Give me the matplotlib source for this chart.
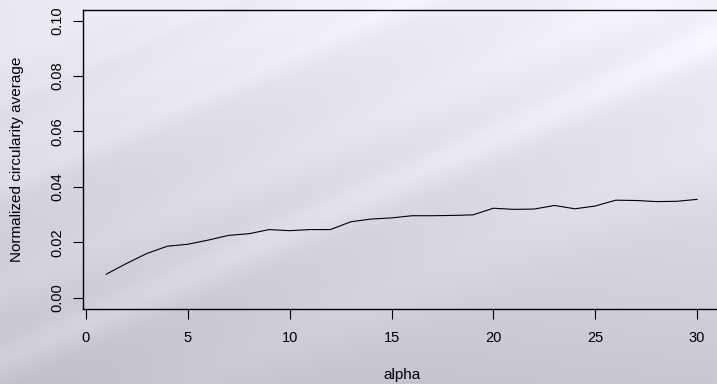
import numpy as np
import matplotlib
matplotlib.use("Agg")
import matplotlib.pyplot as plt

# Normalized circularity average for each alpha
alpha = list(range(1, 31))
circularity = [0.0085, 0.0124, 0.0160, 0.0186, 0.0193, 0.0208, 0.0225, 0.0231, 0.0246, 0.0242,
               0.0246, 0.0246, 0.0274, 0.0284, 0.0288, 0.0296, 0.0296, 0.0297, 0.0299, 0.0323,
               0.0319, 0.0320, 0.0333, 0.0321, 0.0331, 0.0352, 0.0351, 0.0347, 0.0348, 0.0355]
x_ticks = [0, 5, 10, 15, 20, 25, 30]
y_ticks = [0.00, 0.02, 0.04, 0.06, 0.08, 0.10]
y_tick_labels = ["0.00", "0.02", "0.04", "0.06", "0.08", "0.10"]

plt.rcParams['font.family'] = ['Liberation Sans', 'DejaVu Sans']

W, H = 717, 384
fig = plt.figure(figsize=(W / 100, H / 100), dpi=100)

# Soft lavender-grey backdrop with diagonal light streaks
yy, xx = np.mgrid[0:H, 0:W].astype(float)
u, v = xx / W, yy / H
val = 234 - 40 * v + 8 * u
s = yy + 0.45 * xx
for centre, width, amp in [(150, 25, 7), (185, 15, 8), (290, 30, 7), (360, 20, 12), (470, 40, 6), (60, 35, 5), (100, 10, 4)]:
    val += amp * np.exp(-((s - centre) / width) ** 2)
val = np.clip(val, 0, 255)
rgb = np.stack([val - 2, val - 2, val + 9], axis=-1)
rgb = np.clip(rgb, 0, 255) / 255.0
bg = fig.add_axes([0, 0, 1, 1], zorder=0)
bg.imshow(rgb, aspect='auto', extent=[0, 1, 0, 1], interpolation='bilinear')
bg.axis('off')

left, right, top, bottom = 82.7, 720.7, 9.6, 308.8
ax = fig.add_axes([left / W, 1 - bottom / H, (right - left) / W, (bottom - top) / H], zorder=1)
ax.patch.set_alpha(0)

ax.plot(alpha, circularity, color='black', lw=0.8)

xmin, xmax = min(alpha), max(alpha)
xr = xmax - xmin
ax.set_xlim(xmin - 0.04 * xr, xmax + 0.04 * xr)
ax.set_ylim(-0.004, 0.104)

ax.set_xticks(x_ticks)
ax.set_xticklabels([str(t) for t in x_ticks])
ax.set_yticks(y_ticks)
ax.set_yticklabels(y_tick_labels, rotation=90, va='center')
ax.tick_params(axis='both', direction='out', length=7, width=0.8, labelsize=10.5, colors='black')
ax.tick_params(axis='x', pad=9)
ax.tick_params(axis='y', pad=6.5)

for side in ['left', 'bottom', 'top']:
    ax.spines[side].set_linewidth(1.0)
    ax.spines[side].set_color('black')
ax.spines['right'].set_visible(False)

ax.set_xlabel('alpha', fontsize=11, va='center')
ax.xaxis.set_label_coords(0.5, (bottom - 375) / (bottom - top))
ax.set_ylabel('Normalized circularity average', fontsize=11, va='center')
ax.yaxis.set_label_coords((17.5 - left) / (right - left), 0.5)

fig.savefig('out.png', dpi=100)
